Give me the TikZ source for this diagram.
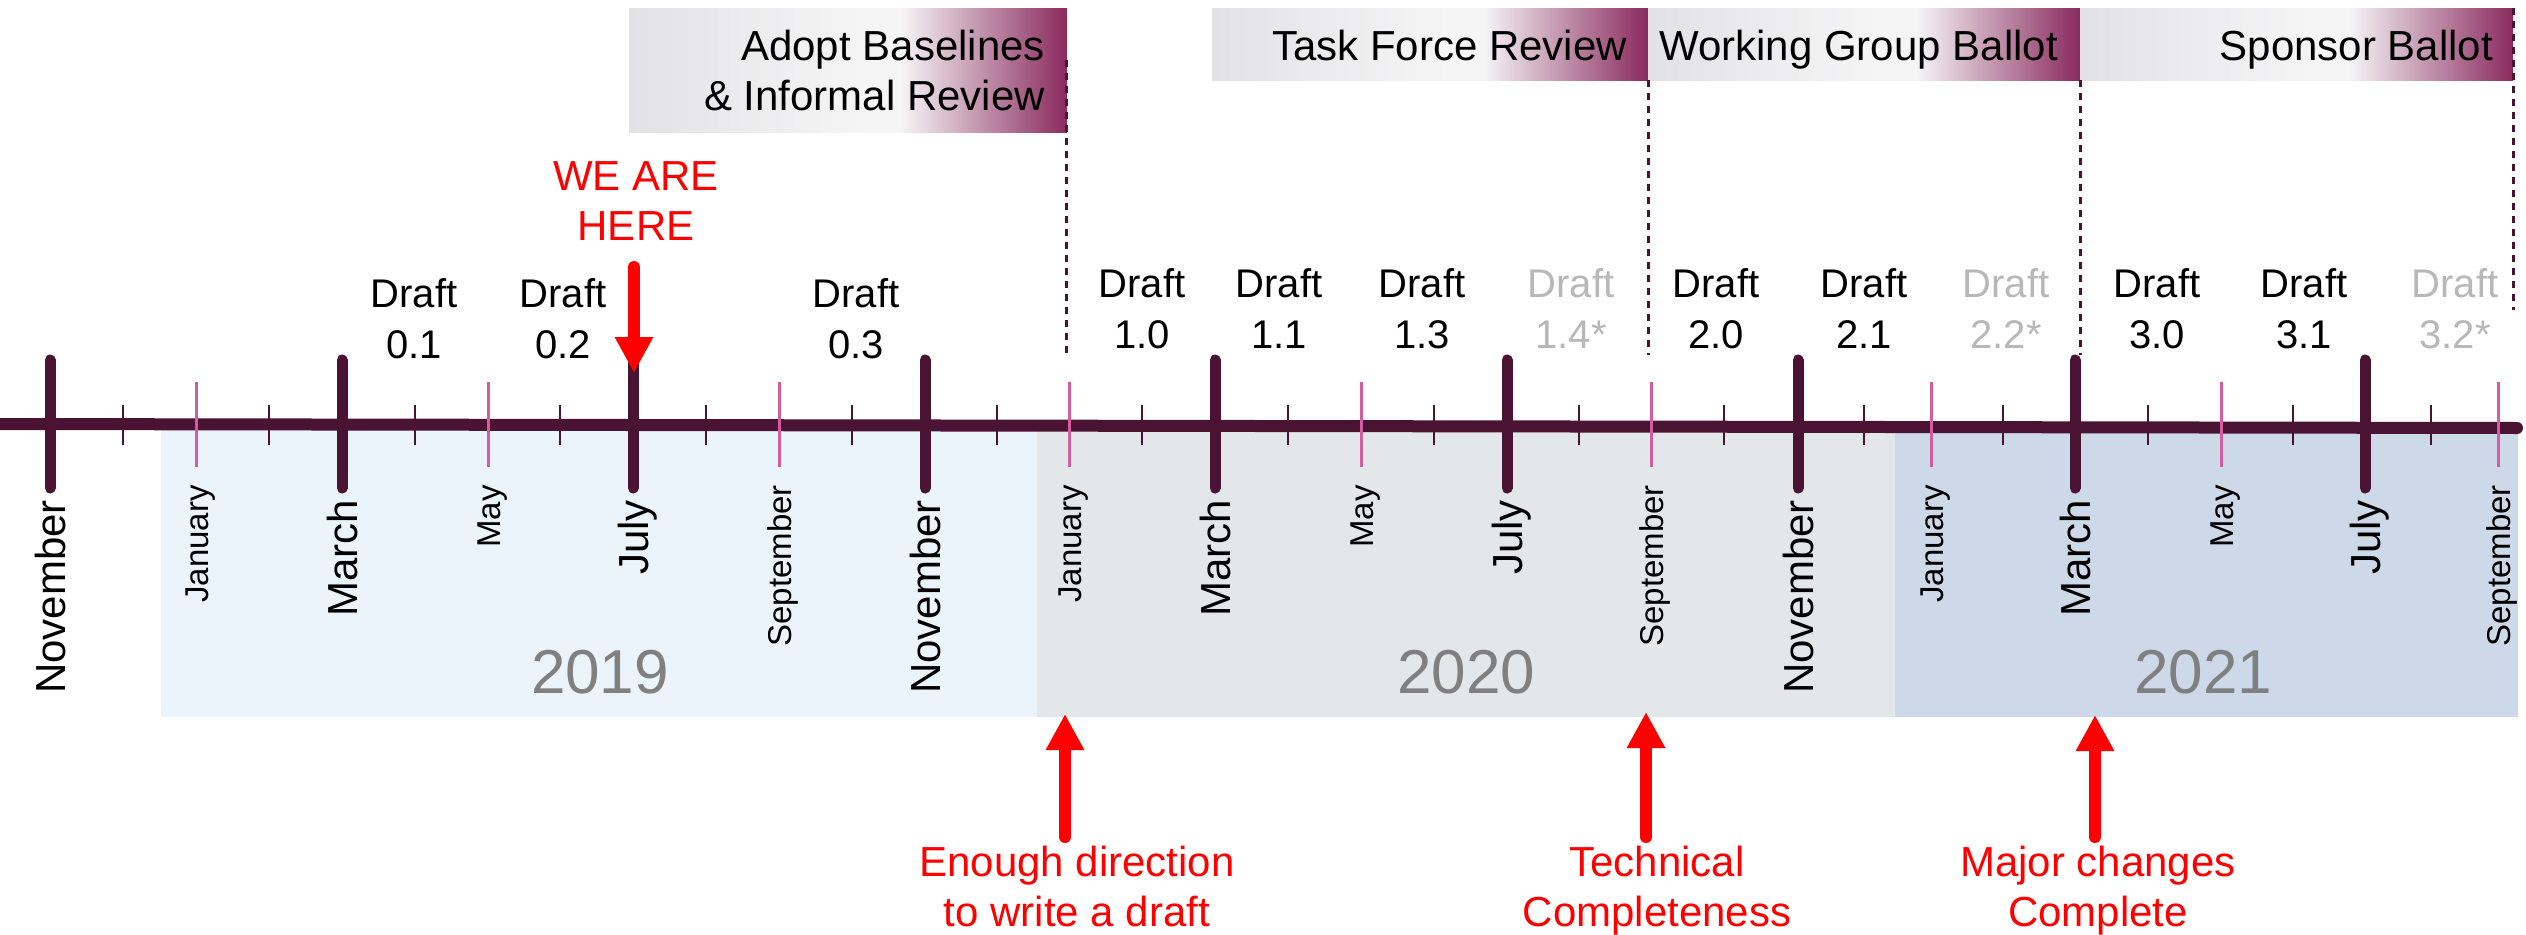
\documentclass[tikz,border=0pt]{standalone}
\usepackage{fontspec}
\setmainfont{Liberation Sans}
\usetikzlibrary{arrows.meta}
\definecolor{plum}{HTML}{4A1333}
\definecolor{pinkc}{HTML}{D65CA0}
\definecolor{boxA}{HTML}{EBF4FA}
\definecolor{boxB}{HTML}{E3E7EA}
\definecolor{boxC}{HTML}{CDD8E8}
\definecolor{yeargray}{HTML}{808080}
\definecolor{draftgray}{HTML}{B8B8B8}
\definecolor{pgL}{HTML}{E2E2E4}
\definecolor{pgM}{HTML}{F6F5F6}
\definecolor{pgR}{HTML}{8A2A5E}
\definecolor{redc}{HTML}{FF0000}
\pgfdeclarehorizontalshading{phaseshade}{100bp}{color(0bp)=(pgL); color(25bp)=(pgL); color(52bp)=(pgM); color(56bp)=(pgM); color(75bp)=(pgR); color(100bp)=(pgR)}
\newcommand{\twoC}[2]{\begin{tabular}[t]{@{}c@{}}#1\\#2\end{tabular}}
\newcommand{\twoR}[2]{\begin{tabular}[t]{@{}r@{}}#1\\#2\end{tabular}}
\tikzset{
  majortick/.style={draw=plum, line width=11pt, line cap=round},
  pinktick/.style={draw=pinkc, line width=3pt},
  minortick/.style={draw=plum, line width=2.5pt},
  axisline/.style={draw=plum, line width=12pt, line cap=round},
  bigmonth/.style={font=\fontsize{42}{50}\selectfont, rotate=90, anchor=base east, inner sep=0pt},
  smallmonth/.style={font=\fontsize{33}{40}\selectfont, rotate=90, anchor=base east, inner sep=0pt},
  draftlbl/.style={font=\fontsize{40}{51}\selectfont, anchor=base, inner sep=0pt},
  yearlbl/.style={font=\fontsize{62}{70}\selectfont, text=yeargray, anchor=base, inner sep=0pt},
  phasebox/.style={shading=phaseshade, anchor=north west, inner sep=0pt},
  phaselbl/.style={font=\fontsize{42}{50}\selectfont, anchor=base east, inner sep=0pt},
  redlbl/.style={font=\fontsize{42}{50}\selectfont, text=redc, anchor=base, inner sep=0pt},
  redarrow/.style={draw=redc, line width=12pt, line cap=round, -{Triangle[length=36pt,width=36pt]}},
  phasedash/.style={draw=plum, line width=3pt, dash pattern=on 7pt off 6pt},
}
\begin{document}
\begin{tikzpicture}[x=1pt, y=-1pt]
\useasboundingbox (0,0) rectangle (2526,934);
\fill[white] (0,0) rectangle (2526,934);
% year backgrounds
\fill[boxA] (161,428) rectangle (1037,717);
\fill[boxB] (1037,428) rectangle (1895,717);
\fill[boxC] (1895,428) rectangle (2518,717);
\node[yearlbl] (y2019) at (600,693) {2019};
\node[yearlbl] (y2020) at (1466,693) {2020};
\node[yearlbl] (y2021) at (2203,693) {2021};
% axis
\coordinate (axL) at (0,424);
\coordinate (axR) at (2517,428);
\draw[axisline] (axL) -- (axR);
% minor ticks
\foreach \x in {123,269,415,560,706,852,997,1142,1288,1434,1579,1724,1864,2003,2148,2293,2431}
  \draw[minortick] (\x,405) -- (\x,445);
% pink ticks
\foreach \x in {196,488,779,1069,1361,1651,1931,2221,2498}
  \draw[pinktick] (\x,382) -- (\x,467);
% major ticks
\foreach \x in {50,342,633,925,1215,1507,1798,2075,2365}
  \draw[majortick] (\x,360) -- (\x,488);
% month labels
\foreach \x/\m [count=\i] in {50/November,342/March,633/July,925/November,1215/March,1507/July,1798/November,2075/March,2365/July}
  \node[bigmonth] (bm\i) at (\x+15,500) {\m};
\foreach \x/\m [count=\i] in {196/January,488/May,779/September,1069/January,1361/May,1651/September,1931/January,2221/May,2498/September}
  \node[smallmonth] (sm\i) at (\x+12,485) {\m};
% drafts
\foreach \x/\v/\y/\c [count=\i] in {414/0.1/307/black,563/0.2/307/black,856/0.3/307/black,
  1142/1.0/297/black,1279/1.1/297/black,1422/1.3/297/black,1571/1.4*/297/draftgray,
  1716/2.0/297/black,1864/2.1/297/black,2006/2.2*/297/draftgray,
  2157/3.0/297/black,2304/3.1/297/black,2455/3.2*/297/draftgray}
  \node[draftlbl, text=\c] (dr\i) at (\x,\y) {\twoC{Draft}{\v}};
% phase boxes
\node[phasebox, minimum width=438pt, minimum height=124pt] (ph1) at (629,8) {};
\node[phasebox, minimum width=436pt, minimum height=72pt] (ph2) at (1212,8) {};
\node[phasebox, minimum width=432pt, minimum height=72pt] (ph3) at (1648,8) {};
\node[phasebox, minimum width=433pt, minimum height=72pt] (ph4) at (2080,8) {};
\node[phaselbl] (pt1) at (1045,60) {\twoR{Adopt Baselines}{\& Informal Review}};
\node[phaselbl] (pt2) at (1627,60) {Task Force Review};
\node[phaselbl] (pt3) at (2058,60) {Working Group Ballot};
\node[phaselbl] (pt4) at (2493,60) {Sponsor Ballot};
% dashed phase separators
\coordinate (d1a) at (1066,60);  \coordinate (d1b) at (1066,355);
\coordinate (d2a) at (1648,80);  \coordinate (d2b) at (1648,355);
\coordinate (d3a) at (2080,80);  \coordinate (d3b) at (2080,355);
\coordinate (d4a) at (2513,8);   \coordinate (d4b) at (2513,310);
\draw[phasedash] (d1a) -- (d1b);
\draw[phasedash] (d2a) -- (d2b);
\draw[phasedash] (d3a) -- (d3b);
\draw[phasedash] (d4a) -- (d4b);
% we are here
\node[redlbl] (here) at (636,190) {\twoC{WE ARE}{HERE}};
\coordinate (hereT) at (634,267);
\coordinate (hereH) at (634,373);
\draw[redarrow] (hereT) -- (hereH);
% milestones
\coordinate (m1t) at (1065,837); \coordinate (m1h) at (1065,714);
\coordinate (m2t) at (1646,837); \coordinate (m2h) at (1646,712);
\coordinate (m3t) at (2095,837); \coordinate (m3h) at (2095,715);
\draw[redarrow] (m1t) -- (m1h);
\draw[redarrow] (m2t) -- (m2h);
\draw[redarrow] (m3t) -- (m3h);
\node[redlbl] (ms1) at (1077,876) {\twoC{Enough direction}{to write a draft}};
\node[redlbl] (ms2) at (1657,876) {\twoC{Technical}{Completeness}};
\node[redlbl] (ms3) at (2098,876) {\twoC{Major changes}{Complete}};
\end{tikzpicture}
\end{document}
